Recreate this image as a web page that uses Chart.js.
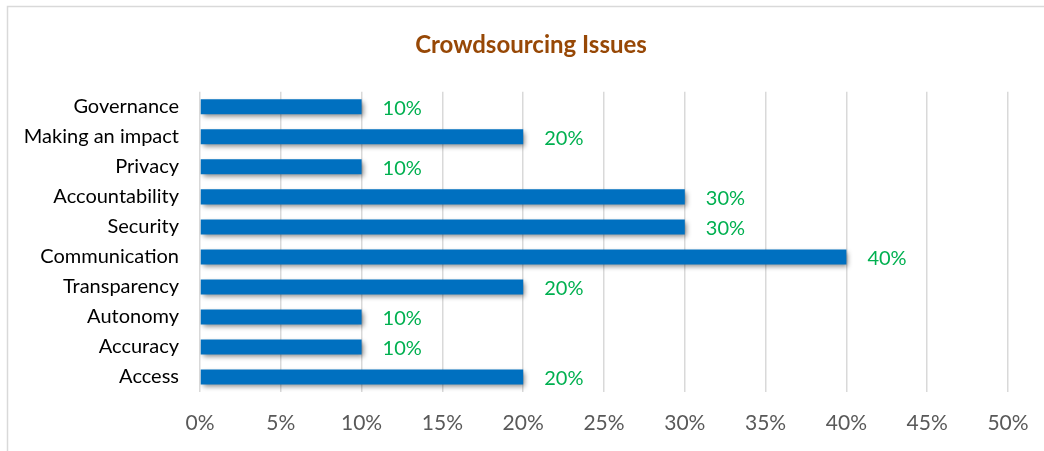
<!DOCTYPE html>
<html><head><meta charset="utf-8">
<script src="https://cdn.jsdelivr.net/npm/chart.js@4"></script>
<style>html,body{margin:0;padding:0;background:#fff;}canvas{display:block;}</style>
</head><body>
<canvas id="c" width="1044" height="451"></canvas>
<script>
const categories = ["Governance","Making an impact","Privacy","Accountability","Security","Communication","Transparency","Autonomy","Accuracy","Access"];
const values = [10,20,10,30,30,40,20,10,10,20];
const tickValues = [0,5,10,15,20,25,30,35,40,45,50];
const chartTitle = "Crowdsourcing Issues";

const FONT = "Lato, 'Open Sans', 'Liberation Sans', sans-serif";

const framePlugin = {
  id: 'frame',
  beforeDraw(chart) {
    const ctx = chart.ctx;
    ctx.save();
    ctx.fillStyle = '#fff';
    ctx.fillRect(0, 0, chart.width, chart.height);
    ctx.strokeStyle = '#d9d9d9';
    ctx.lineWidth = 1.5;
    ctx.strokeRect(7.5, 6.5, chart.width + 20, chart.height + 20);
    ctx.restore();
  }
};
const shadowPlugin = {
  id: 'barShadow',
  beforeDatasetDraw(chart) {
    const ctx = chart.ctx;
    ctx.save();
    ctx.shadowColor = 'rgba(0,0,0,0.45)';
    ctx.shadowBlur = 5;
    ctx.shadowOffsetX = 2;
    ctx.shadowOffsetY = 3;
  },
  afterDatasetDraw(chart) {
    chart.ctx.restore();
  }
};
const labelPlugin = {
  id: 'valueLabels',
  afterDatasetsDraw(chart) {
    const ctx = chart.ctx;
    const meta = chart.getDatasetMeta(0);
    ctx.save();
    ctx.font = "20px " + FONT;
    ctx.fillStyle = '#00B050';
    ctx.textAlign = 'left';
    ctx.textBaseline = 'middle';
    meta.data.forEach((bar, i) => {
      ctx.fillText(values[i] + '%', bar.x + 21, bar.y + 2);
    });
    ctx.restore();
  }
};

new Chart(document.getElementById('c'), {
  type: 'bar',
  data: {
    labels: categories,
    datasets: [{
      data: values,
      backgroundColor: '#0070C0',
      borderWidth: 0,
      barPercentage: 0.5,
      categoryPercentage: 1.0
    }]
  },
  options: {
    indexAxis: 'y',
    responsive: false,
    animation: false,
    layout: { padding: { left: 18, right: 0, top: 0, bottom: 15 } },
    plugins: {
      legend: { display: false },
      tooltip: { enabled: false },
      title: {
        display: true,
        text: chartTitle,
        color: '#974806',
        font: { family: FONT, size: 24, weight: 'bold', lineHeight: 1.2 },
        padding: { top: 31, bottom: 32 }
      }
    },
    scales: {
      x: {
        min: 0, max: 50,
        afterBuildTicks(scale) { scale.ticks = tickValues.map(v => ({ value: v })); },
        afterFit(scale) { scale.height = 44; scale.paddingLeft = 0; scale.paddingRight = 36; },
        grid: { color: '#d9d9d9', lineWidth: 1.5, drawTicks: false },
        border: { display: false },
        ticks: {
          callback: v => v + '%',
          color: '#595959',
          padding: 19,
          font: { family: FONT, size: 21 },
          maxRotation: 0
        }
      },
      y: {
        afterFit(scale) { scale.width = 182; },
        grid: { display: false, drawTicks: false },
        border: { display: false },
        ticks: {
          color: '#000',
          padding: 21,
          font: { family: FONT, size: 20 }
        }
      }
    }
  },
  plugins: [framePlugin, shadowPlugin, labelPlugin]
});
</script>
</body></html>
